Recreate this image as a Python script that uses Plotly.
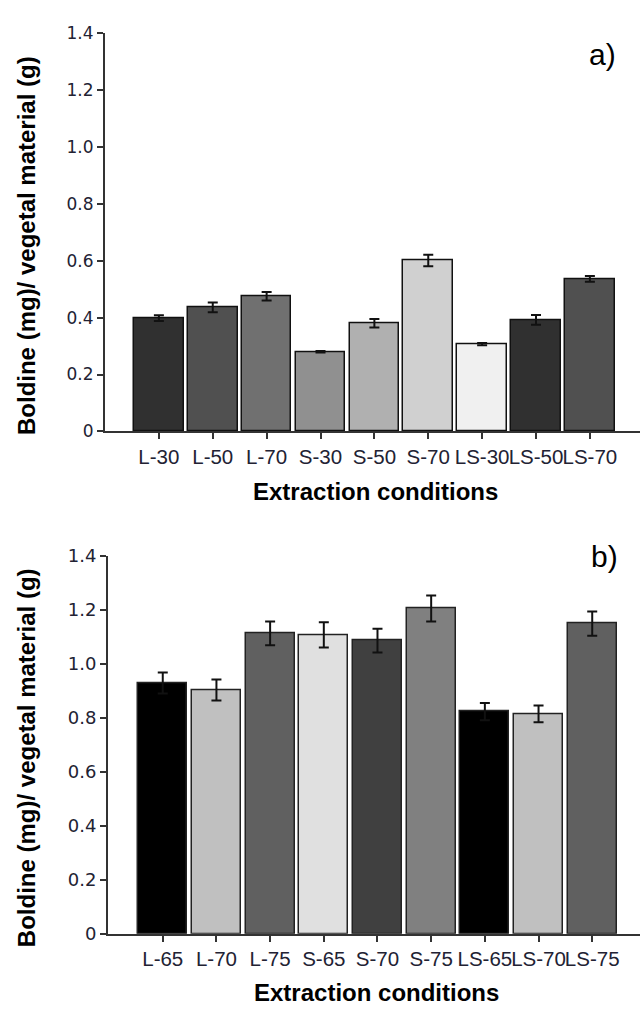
import plotly.graph_objects as go

W, H = 640, 1013

# Panel a data
cats_a = ["L-30", "L-50", "L-70", "S-30", "S-50", "S-70", "LS-30", "LS-50", "LS-70"]
vals_a = [0.398, 0.436, 0.475, 0.280, 0.380, 0.601, 0.307, 0.392, 0.536]
errs_a = [0.010, 0.017, 0.015, 0.003, 0.015, 0.020, 0.004, 0.017, 0.010]
cols_a = ["#303030", "#505050", "#707070", "#909090", "#b0b0b0", "#d0d0d0", "#f0f0f0", "#303030", "#505050"]

# Panel b data
cats_b = ["L-65", "L-70", "L-75", "S-65", "S-70", "S-75", "LS-65", "LS-70", "LS-75"]
vals_b = [0.930, 0.904, 1.114, 1.108, 1.087, 1.206, 0.824, 0.815, 1.150]
errs_b = [0.039, 0.039, 0.044, 0.047, 0.044, 0.048, 0.032, 0.031, 0.045]
cols_b = ["#000000", "#c0c0c0", "#606060", "#e0e0e0", "#404040", "#808080", "#000000", "#c0c0c0", "#606060"]

y_ticks = [0, 0.2, 0.4, 0.6, 0.8, 1.0, 1.2, 1.4]
y_ticktext = ["0", "0.2", "0.4", "0.6", "0.8", "1.0", "1.2", "1.4"]

fig = go.Figure()
fig.add_trace(go.Bar(
    x=cats_a, y=vals_a, width=0.92,
    marker=dict(color=cols_a, line=dict(color="#111111", width=1.5)),
    error_y=dict(type="data", array=errs_a, color="#111111", thickness=2, width=5),
    xaxis="x", yaxis="y", showlegend=False))
fig.add_trace(go.Bar(
    x=cats_b, y=vals_b, width=0.91,
    marker=dict(color=cols_b, line=dict(color="#222222", width=1.5)),
    error_y=dict(type="data", array=errs_b, color="#111111", thickness=2, width=5),
    xaxis="x2", yaxis="y2", showlegend=False))

def py(px):
    return 1 - px / H

xtick_font = dict(family="Liberation Sans, Arial, sans-serif", size=20.5, color="#222233")

common_x = dict(type="category", showline=True, linecolor="#333333", linewidth=2,
                ticks="outside", ticklen=6, tickwidth=2, tickcolor="#333333", tickangle=0,
                showgrid=False, zeroline=False, tickfont=xtick_font)
common_y = dict(range=[0, 1.4], showline=True, linecolor="#333333", linewidth=2,
                ticks="outside", ticklen=6, tickwidth=2, tickcolor="#333333",
                showgrid=False, zeroline=False, tickvals=y_ticks, ticktext=y_ticktext)

fig.update_layout(
    width=W, height=H,
    margin=dict(l=0, r=0, t=0, b=0),
    paper_bgcolor="white", plot_bgcolor="white",
    bargap=0,
    xaxis=dict(common_x, domain=[105 / W, 1], range=[-1.0, 8.93], anchor="y"),
    yaxis=dict(common_y, domain=[py(429.3), py(22.7)], anchor="x",
               tickfont=dict(family="DejaVu Sans", size=17, color="#222233")),
    xaxis2=dict(common_x, domain=[108 / W, 1], range=[-1.02, 8.89], anchor="y2"),
    yaxis2=dict(common_y, domain=[py(942.3), py(556.7)], anchor="x2",
                tickfont=dict(family="DejaVu Sans", size=18, color="#222233")),
)

title_font = dict(family="Liberation Sans, Arial, sans-serif", size=24, color="#000000")
ann = []
ann.append(dict(text="<b>Extraction conditions</b>", x=375 / W, y=py(491), xref="paper", yref="paper",
                xanchor="center", yanchor="middle", showarrow=False, font=title_font))
ann.append(dict(text="<b>Extraction conditions</b>", x=376 / W, y=py(1002), xref="paper", yref="paper",
                xanchor="center", yanchor="middle", showarrow=False, font=title_font))
ann.append(dict(text="<b>Boldine (mg)/ vegetal material (g)</b>", x=26 / W, y=py(240), xref="paper", yref="paper",
                xanchor="center", yanchor="middle", textangle=-90, showarrow=False, font=title_font))
ann.append(dict(text="<b>Boldine (mg)/ vegetal material (g)</b>", x=26 / W, y=py(763), xref="paper", yref="paper",
                xanchor="center", yanchor="middle", textangle=-90, showarrow=False, font=title_font))
label_font = dict(family="Liberation Sans, Arial, sans-serif", size=30, color="#000000")
ann.append(dict(text="a)", x=602 / W, y=py(44), xref="paper", yref="paper",
                xanchor="center", yanchor="middle", showarrow=False, font=label_font))
ann.append(dict(text="b)", x=604 / W, y=py(557), xref="paper", yref="paper",
                xanchor="center", yanchor="middle", showarrow=False, font=label_font))
fig.update_layout(annotations=ann)

fig.write_html("out.html")
